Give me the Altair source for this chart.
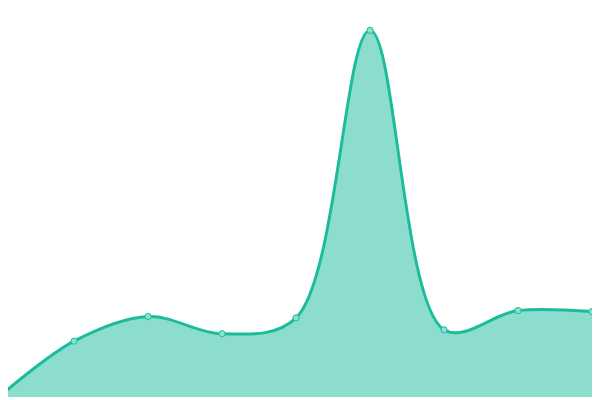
import altair as alt
import pandas as pd

idx = [0, 1, 2, 3, 4, 5, 6, 7, 8]
values = [1.5, 57, 82, 64.5, 80.5, 372, 68.5, 88, 87]

df = pd.DataFrame({"i": idx, "v": values})

# the page has an 8px margin: the domains start 8px inside so the curve meets the window edges
x = alt.X("i:Q", axis=None, scale=alt.Scale(domain=[8 / 75, 8], nice=False, zero=False))
y = alt.Y("v:Q", axis=None, scale=alt.Scale(domain=[0, 392], nice=False))

base = alt.Chart(df).encode(x=x, y=y)

area = base.mark_area(interpolate="catmull-rom", color="#1abc9c", opacity=0.5, clip=True)
line = base.mark_line(interpolate="catmull-rom", color="#1abc9c", strokeWidth=3, clip=True)
pts = base.mark_point(filled=True, size=40, fill="#8ce0cf", stroke="#1abc9c", strokeWidth=1, opacity=1)

chart = (area + line + pts).properties(
    width=592, height=392,
    padding=0,
    autosize=alt.AutoSizeParams(type="none"),
).configure_view(stroke=None)

chart.save("out.html", embed_options={"renderer": "svg", "actions": False})
